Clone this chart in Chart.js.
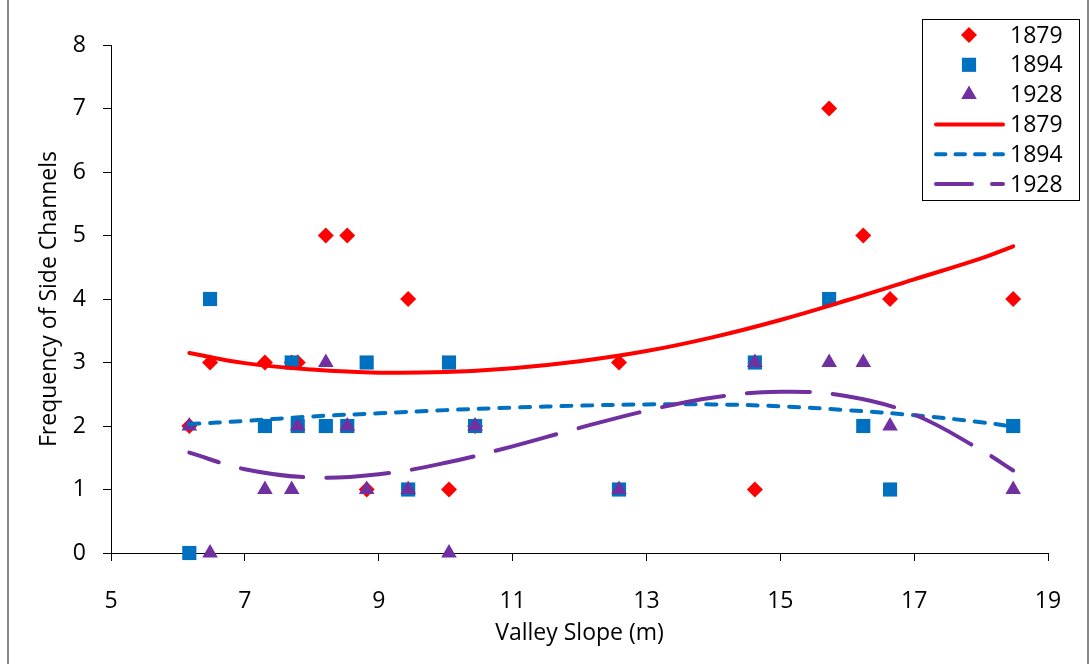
<!DOCTYPE html>
<html>
<head>
<meta charset="utf-8">
<title>Frequency of Side Channels vs Valley Slope</title>
<script src="https://cdn.jsdelivr.net/npm/chart.js@4.4.1/dist/chart.umd.min.js"></script>
<style>
  html, body { margin: 0; padding: 0; background: #fff; }
  #chart { display: block; }
</style>
</head>
<body>
<canvas id="chart" width="1092" height="664"></canvas>
<script>
// valley slope of each reach (same reaches in every survey year)
const slopes = [6.17, 6.48, 7.30, 7.70, 7.79, 8.21, 8.53, 8.82, 9.44, 10.05, 10.44, 12.59, 14.62, 15.73, 16.24, 16.64, 18.48];
const channels1879 = [2, 3, 3, 3, 3, 5, 5, 1, 4, 1, 2, 3, 1, 7, 5, 4, 4];
const channels1894 = [0, 4, 2, 3, 2, 2, 2, 3, 1, 3, 2, 1, 3, 4, 2, 1, 2];
const channels1928 = [2, 0, 1, 1, 2, 3, 2, 1, 1, 0, 2, 1, 3, 3, 3, 2, 1];

// trend lines
const trendX = [6.17, 7, 8, 9, 10, 11, 12, 13, 14, 15, 16, 17, 18, 18.48];
const trend1879 = [3.15, 2.99, 2.89, 2.84, 2.85, 2.91, 3.02, 3.18, 3.40, 3.67, 3.98, 4.31, 4.64, 4.83];
const trend1894 = [2.03, 2.08, 2.15, 2.20, 2.25, 2.29, 2.32, 2.34, 2.34, 2.31, 2.25, 2.17, 2.06, 1.99];
const trend1928 = [1.58, 1.32, 1.19, 1.24, 1.42, 1.68, 1.97, 2.24, 2.45, 2.54, 2.47, 2.18, 1.62, 1.30];

const xTicks = [5, 7, 9, 11, 13, 15, 17, 19];
const yTicks = [0, 1, 2, 3, 4, 5, 6, 7, 8];

const RED = '#FF0000';
const BLUE = '#0070C0';
const PURPLE = '#7030A0';
const FONT = { family: '"Open Sans", "Liberation Sans", sans-serif', size: 23 };

const pts = (xs, ys) => xs.map((x, i) => ({ x: x, y: ys[i] }));

function markerSet(label, values, color, style, radius, order) {
    return {
        label: label,
        data: pts(slopes, values),
        pointStyle: style,
        pointRadius: radius,
        pointBackgroundColor: color,
        pointBorderWidth: 0,
        backgroundColor: color,
        borderColor: color,
        showLine: false,
        clip: false,
        order: order
    };
}

function trendSet(label, values, color, dash, offset, legendDash, order) {
    return {
        label: label,
        data: pts(trendX, values),
        showLine: true,
        pointRadius: 0,
        borderColor: color,
        backgroundColor: color,
        borderWidth: 4,
        borderDash: dash,
        borderDashOffset: offset,
        borderCapStyle: 'round',
        tension: 0.4,
        clip: false,
        legendDash: legendDash,
        order: order
    };
}

// marker shapes, same geometry as Chart.js uses
function drawMarker(ctx, style, r, x, y) {
    ctx.beginPath();
    if (style === 'rectRot') {
        ctx.moveTo(x, y - r); ctx.lineTo(x + r, y); ctx.lineTo(x, y + r); ctx.lineTo(x - r, y);
    } else if (style === 'rect') {
        const s = Math.SQRT1_2 * r;
        ctx.rect(x - s, y - s, 2 * s, 2 * s);
    } else {
        ctx.moveTo(x, y - r);
        ctx.lineTo(x + Math.sin(2 * Math.PI / 3) * r, y + r / 2);
        ctx.lineTo(x - Math.sin(2 * Math.PI / 3) * r, y + r / 2);
    }
    ctx.closePath();
    ctx.fill();
}

const boxLegend = {
    id: 'boxLegend',
    afterDraw(chart) {
        const ctx = chart.ctx;
        ctx.save();
        // outer frame of the chart object
        ctx.strokeStyle = '#8a8a8a';
        ctx.lineWidth = 2;
        ctx.beginPath();
        ctx.moveTo(8, 0); ctx.lineTo(8, 664);
        ctx.moveTo(1088, 0); ctx.lineTo(1088, 664);
        ctx.stroke();

        ctx.fillStyle = '#fff';
        ctx.fillRect(923, 19, 157, 182);
        ctx.strokeStyle = '#000';
        ctx.lineWidth = 1;
        ctx.strokeRect(922.5, 19.5, 157, 181);

        ctx.font = FONT.size + 'px ' + FONT.family;
        ctx.textBaseline = 'middle';
        ctx.textAlign = 'left';
        chart.data.datasets.forEach((ds, i) => {
            const y = 35 + i * 29.8;
            if (ds.showLine) {
                ctx.strokeStyle = ds.borderColor;
                ctx.lineWidth = ds.borderWidth;
                ctx.lineCap = 'round';
                ctx.setLineDash(ds.legendDash);
                ctx.beginPath();
                ctx.moveTo(936, y);
                ctx.lineTo(1003, y);
                ctx.stroke();
                ctx.setLineDash([]);
            } else {
                ctx.fillStyle = ds.pointBackgroundColor;
                drawMarker(ctx, ds.pointStyle, ds.pointRadius, 969, y);
            }
            ctx.fillStyle = '#000';
            ctx.fillText(ds.label, 1010, y + 1);
        });
        ctx.restore();
    }
};

Chart.defaults.color = '#000';
Chart.defaults.font.family = FONT.family;
Chart.defaults.font.size = FONT.size;

new Chart(document.getElementById('chart'), {
    type: 'scatter',
    data: {
        datasets: [
            markerSet('1879', channels1879, RED, 'rectRot', 8, 6),
            markerSet('1894', channels1894, BLUE, 'rect', 10, 5),
            markerSet('1928', channels1928, PURPLE, 'triangle', 9, 4),
            trendSet('1879', trend1879, RED, [], 0, [], 3),
            trendSet('1894', trend1894, BLUE, [10, 10.7], 0, [9.5, 10], 2),
            trendSet('1928', trend1928, PURPLE, [63, 23], 32, [36, 20], 1)
        ]
    },
    options: {
        responsive: false,
        animation: false,
        devicePixelRatio: 1,
        layout: { padding: { left: 0, top: 45, right: 44, bottom: 0 } },
        plugins: {
            legend: { display: false },
            tooltip: { enabled: false }
        },
        scales: {
            x: {
                type: 'linear',
                min: 5,
                max: 19,
                afterBuildTicks: s => { s.ticks = xTicks.map(v => ({ value: v })); },
                afterFit: s => { s.height = 111; },
                grid: { drawOnChartArea: false, tickLength: 8, color: '#000' },
                border: { color: '#000', width: 1 },
                ticks: { padding: 27, maxRotation: 0 },
                title: { display: true, text: 'Valley Slope (m)', padding: { top: 0, bottom: 17 } }
            },
            y: {
                type: 'linear',
                min: 0,
                max: 8,
                afterBuildTicks: s => { s.ticks = yTicks.map(v => ({ value: v })); },
                afterFit: s => { s.width = 111; },
                grid: { drawOnChartArea: false, tickLength: 8, color: '#000' },
                border: { color: '#000', width: 1 },
                ticks: { padding: 17 },
                title: { display: true, text: 'Frequency of Side Channels', padding: { top: 36, bottom: 0 } }
            }
        }
    },
    plugins: [boxLegend]
});
</script>
</body>
</html>
